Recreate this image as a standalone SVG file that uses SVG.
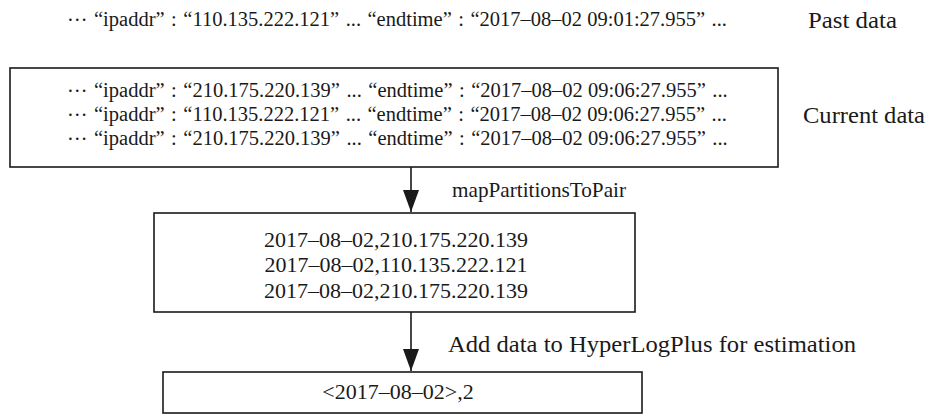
<svg xmlns="http://www.w3.org/2000/svg" width="930" height="415" viewBox="0 0 930 415">
<defs>
<style>
text{font-family:"Liberation Serif","Times New Roman",serif;fill:#1a1a1a}
.box{fill:#fff;stroke:#1a1a1a;stroke-width:1.6}
.conn{stroke:#1a1a1a;stroke-width:1.6;fill:none}
.rec{font-size:20.5px}
.mid{text-anchor:middle}
.lbl{font-size:22px}
.side{font-size:24px}
</style>
<marker id="arr" viewBox="0 0 22 16" refX="22" refY="8" markerWidth="22" markerHeight="16" markerUnits="userSpaceOnUse" orient="auto">
<path d="M0,0 L22,8 L0,16 Z" fill="#1a1a1a"/>
</marker>
</defs>
<rect width="930" height="415" fill="#fff"/>
<g id="past">
<text class="rec" x="67" y="26"><tspan dy="-5">…</tspan><tspan dx="6.5" dy="5">“</tspan>ipaddr”<tspan dx="6.5">:</tspan><tspan dx="6.5">“</tspan>110.135.222.121”<tspan dx="6.5">...</tspan><tspan dx="6.5">“</tspan>endtime”<tspan dx="6.5">:</tspan><tspan dx="6.5">“</tspan>2017–08–02 09:01:27.955”<tspan dx="6.5">...</tspan></text>
<text class="side" x="808" y="28" textLength="89" lengthAdjust="spacingAndGlyphs">Past data</text>
</g>
<g id="current">
<rect class="box" x="10" y="68" width="768" height="99"/>
<text class="rec" x="67" y="97"><tspan dy="-5">…</tspan><tspan dx="6.5" dy="5">“</tspan>ipaddr”<tspan dx="6.5">:</tspan><tspan dx="6.5">“</tspan>210.175.220.139”<tspan dx="6.5">...</tspan><tspan dx="6.5">“</tspan>endtime”<tspan dx="6.5">:</tspan><tspan dx="6.5">“</tspan>2017–08–02 09:06:27.955”<tspan dx="6.5">...</tspan></text>
<text class="rec" x="67" y="121"><tspan dy="-5">…</tspan><tspan dx="6.5" dy="5">“</tspan>ipaddr”<tspan dx="6.5">:</tspan><tspan dx="6.5">“</tspan>110.135.222.121”<tspan dx="6.5">...</tspan><tspan dx="6.5">“</tspan>endtime”<tspan dx="6.5">:</tspan><tspan dx="6.5">“</tspan>2017–08–02 09:06:27.955”<tspan dx="6.5">...</tspan></text>
<text class="rec" x="67" y="145"><tspan dy="-5">…</tspan><tspan dx="6.5" dy="5">“</tspan>ipaddr”<tspan dx="6.5">:</tspan><tspan dx="6.5">“</tspan>210.175.220.139”<tspan dx="6.5">...</tspan><tspan dx="6.5">“</tspan>endtime”<tspan dx="6.5">:</tspan><tspan dx="6.5">“</tspan>2017–08–02 09:06:27.955”<tspan dx="6.5">...</tspan></text>
<text class="side" x="803" y="123" textLength="122" lengthAdjust="spacingAndGlyphs">Current data</text>
</g>
<g id="pairs">
<rect class="box" x="154" y="213" width="481" height="99"/>
<text class="lbl mid" x="396" y="247">2017–08–02,210.175.220.139</text>
<text class="lbl mid" x="396" y="272">2017–08–02,110.135.222.121</text>
<text class="lbl mid" x="396" y="298">2017–08–02,210.175.220.139</text>
</g>
<g id="result">
<rect class="box" x="163" y="372" width="479" height="41"/>
<text class="lbl mid" x="398" y="399">&lt;2017–08–02&gt;,2</text>
</g>
<g id="connectors">
<line class="conn" x1="411" y1="167" x2="411" y2="212" marker-end="url(#arr)"/>
<text class="lbl" x="452" y="197" textLength="174" lengthAdjust="spacingAndGlyphs">mapPartitionsToPair</text>
<line class="conn" x1="411" y1="312" x2="411" y2="371" marker-end="url(#arr)"/>
<text class="lbl" x="448" y="352" style="font-size:23.5px" textLength="408" lengthAdjust="spacingAndGlyphs">Add data to HyperLogPlus for estimation</text>
</g>
</svg>
